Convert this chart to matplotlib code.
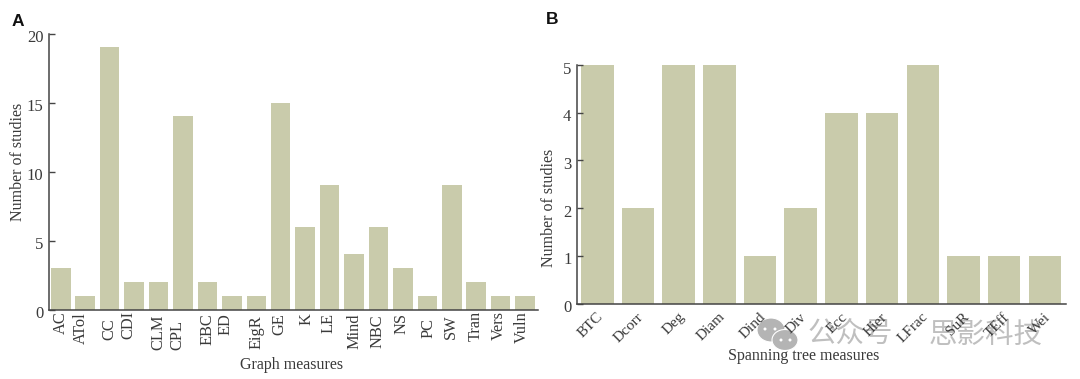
import matplotlib
matplotlib.use('Agg')
import matplotlib.pyplot as plt
from matplotlib.patches import Ellipse
from matplotlib.transforms import ScaledTranslation

measures_a = ['AC','ATol','CC','CDI','CLM','CPL','EBC','ED','EigR','GE','K','LE','Mind','NBC','NS','PC','SW','Tran','Vers','Vuln']
studies_a = [3,1,19,2,2,14,2,1,1,15,6,9,4,6,3,1,9,2,1,1]
measures_b = ['BTC','Dcorr','Deg','Diam','Dind','Div','Ecc','Hier','LFrac','SuR','TEff','Wei']
studies_b = [5,2,5,5,1,2,4,4,5,1,1,1]
# nudges of the hand-placed tick labels, in pixels
shift_x = [0,-4,0,-6,0,-6,0,-6,0,-1,1,-1,0,-1,-1,1,-1,0,-2,-3]
shift_y = [0,1,7,0,4,9,2,2,4,2,2,2,3,3,2,7,3,0,0,0]

W, H = 1080, 379
BAR = '#c9cbab'
TXT = '#3a3a3a'
AX = '#444444'
plt.rcParams['font.family'] = ['Liberation Serif', 'DejaVu Serif']
fig = plt.figure(figsize=(W/100, H/100), dpi=100)

def make_ax(l, r, t, b):
    return fig.add_axes([l/W, 1-b/H, (r-l)/W, (b-t)/H])

def style(ax):
    for s in ('top', 'right'):
        ax.spines[s].set_visible(False)
    for s in ('left', 'bottom'):
        ax.spines[s].set_linewidth(1.1)
        ax.spines[s].set_color(AX)
    ax.tick_params(axis='y', direction='in', length=4, width=1, color=AX, labelsize=12, labelcolor=TXT, pad=4)
    ax.tick_params(axis='x', length=0, labelcolor=TXT)

def nudge(labels, dx, dy):
    for lab in labels:
        lab.set_transform(lab.get_transform() + ScaledTranslation(dx/100, -dy/100, fig.dpi_scale_trans))

ax1 = make_ax(49, 538, 33.5, 309.5)
style(ax1)
x1 = list(range(len(measures_a)))
ax1.bar(x1, studies_a, width=0.8, color=BAR)
ax1.set_xlim(-0.483, 19.53)
ax1.set_ylim(0, 20)
ax1.set_yticks([0, 5, 10, 15, 20])
ax1.set_xticks(x1)
ax1.set_xticklabels(measures_a, rotation=90, fontsize=11.8, va='top', ha='center')
ax1.tick_params(axis='x', pad=1)
for lab, dx, dy in zip(ax1.get_xticklabels(), shift_x, shift_y):
    lab.set_transform(lab.get_transform() + ScaledTranslation(dx/100, -dy/100, fig.dpi_scale_trans))
nudge(ax1.get_yticklabels(), 0, 2.5)
fig.text(292/W, 1-365/H, 'Graph measures', fontsize=11.5, color=TXT, ha='center', va='center')
fig.text(18/W, 1-162/H, 'Number of studies', fontsize=11.5, color=TXT, rotation=90, ha='center', va='center')
fig.text(18/W, 1-21/H, 'A', fontsize=12.5, fontweight='bold', family='Liberation Sans', color='#111111', ha='center', va='center')

ax2 = make_ax(577, 1066, 65, 303.5)
style(ax2)
ax2.set_zorder(10)
ax2.patch.set_alpha(0)
x2 = list(range(len(measures_b)))
ax2.bar(x2, studies_b, width=0.8, color=BAR)
ax2.set_xlim(-0.5, 11.52)
ax2.set_ylim(0, 5)
ax2.set_yticks([0, 1, 2, 3, 4, 5])
ax2.set_xticks(x2)
ax2.set_xticklabels(measures_b, rotation=45, fontsize=11, ha='right', va='top', rotation_mode='anchor')
ax2.tick_params(axis='x', pad=5)
nudge(ax2.get_xticklabels(), -1, 0)
nudge(ax2.get_yticklabels(), 0, 2.5)
fig.text(804/W, 1-356/H, 'Spanning tree measures', fontsize=11.5, color=TXT, ha='center', va='center', zorder=12)
fig.text(549/W, 1-208/H, 'Number of studies', fontsize=11.5, color=TXT, rotation=90, ha='center', va='center')
fig.text(552/W, 1-20/H, 'B', fontsize=12.5, fontweight='bold', family='Liberation Sans', color='#111111', ha='center', va='center')

# watermark
WM = '#b4b4b4'
for cx, cy, w, h in [(771, 330, 28, 24), (785, 340, 26, 21)]:
    fig.add_artist(Ellipse((cx/W, 1-cy/H), w/W, h/H, transform=fig.transFigure, fc=WM, ec='white', lw=0.8, zorder=5))
for cx, cy in [(765, 329), (775, 329), (781, 340), (790, 340)]:
    fig.add_artist(Ellipse((cx/W, 1-cy/H), 3/W, 3/H, transform=fig.transFigure, fc='white', ec='none', zorder=6))
fig.text(850/W, 1-334/H, '公众号', fontsize=20.5, family='Noto Sans CJK SC', color=WM, alpha=0.85, ha='center', va='center', zorder=6)
fig.text(986/W, 1-335/H, '思影科技', fontsize=20.5, family='Noto Sans CJK SC', color=WM, alpha=0.85, ha='center', va='center', zorder=6)

fig.savefig('out.png', dpi=100)
